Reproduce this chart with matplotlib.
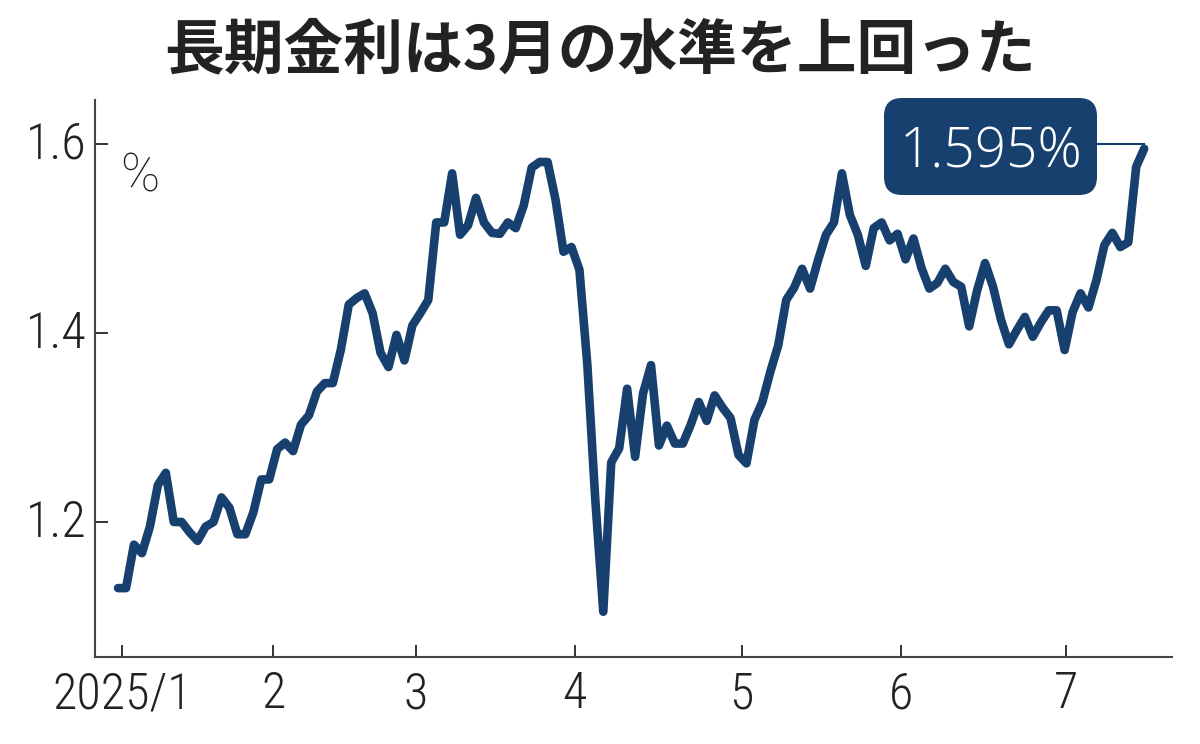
import matplotlib
matplotlib.use("Agg")
import matplotlib.pyplot as plt
from matplotlib.patches import FancyBboxPatch
from matplotlib.transforms import Affine2D, ScaledTranslation

# long-term rate, one value per trading day
rate = [
    1.130, 1.130, 1.176, 1.167, 1.195, 1.239, 1.252, 1.200, 1.200, 1.189,
    1.180, 1.195, 1.200, 1.226, 1.215, 1.187, 1.187, 1.210, 1.245, 1.245,
    1.277, 1.284, 1.275, 1.303, 1.313, 1.338, 1.347, 1.347, 1.382, 1.430,
    1.437, 1.442, 1.421, 1.379, 1.364, 1.398, 1.371, 1.408, 1.421, 1.435,
    1.517, 1.517, 1.569, 1.504, 1.514, 1.543, 1.517, 1.506, 1.505, 1.517,
    1.511, 1.535, 1.575, 1.581, 1.581, 1.541, 1.486, 1.491, 1.467, 1.366,
    1.223, 1.105, 1.263, 1.278, 1.341, 1.269, 1.336, 1.366, 1.281, 1.302,
    1.283, 1.283, 1.303, 1.327, 1.307, 1.334, 1.321, 1.310, 1.271, 1.262,
    1.308, 1.327, 1.359, 1.387, 1.435, 1.448, 1.468, 1.447, 1.477, 1.504,
    1.517, 1.569, 1.525, 1.504, 1.471, 1.511, 1.517, 1.498, 1.505, 1.478,
    1.500, 1.469, 1.447, 1.453, 1.468, 1.454, 1.449, 1.407, 1.445, 1.474,
    1.449, 1.414, 1.388, 1.403, 1.417, 1.396, 1.411, 1.424, 1.424, 1.382,
    1.422, 1.442, 1.427, 1.456, 1.493, 1.506, 1.491, 1.496, 1.576, 1.595,
]
days = list(range(len(rate)))

month_pos = [0.5, 19.5, 37.4, 57.4, 78.4, 98.4, 119.2]
month_labels = ["2025/1", "2", "3", "4", "5", "6", "7"]
y_ticks = [1.2, 1.4, 1.6]
y_labels = ["1.2", "1.4", "1.6"]

NAVY = "#17406f"
TEXT = "#222222"
narrow = ["Roboto Condensed", "DejaVu Sans"]

fig = plt.figure(figsize=(12, 7.44), dpi=100)
ax = fig.add_axes([95 / 1200, 1 - 657 / 744, (1172 - 95) / 1200, (657 - 100) / 744])

ax.plot(days, rate, color=NAVY, lw=6.2, solid_joinstyle="round", solid_capstyle="round")

ax.set_xlim(-2.9, 132.5)
ax.set_ylim(1.0571, 1.6466)
ax.set_xticks(month_pos)
ax.set_xticklabels(month_labels, fontsize=36, family=narrow, fontweight="light", color=TEXT)
ax.set_yticks(y_ticks)
ax.set_yticklabels(y_labels, fontsize=36, family=narrow, fontweight="light", color=TEXT)
ax.tick_params(axis="both", direction="in", length=9, width=1.4, color="#333333")
ax.tick_params(axis="x", pad=10)
ax.tick_params(axis="y", pad=6)

# y labels sit a little above their ticks
lift = ScaledTranslation(0, 3 / 72, fig.dpi_scale_trans)
for label in ax.get_yticklabels():
    label.set_transform(label.get_transform() + lift)

for side in ["top", "right"]:
    ax.spines[side].set_visible(False)
for side in ["left", "bottom"]:
    ax.spines[side].set_linewidth(1.5)
    ax.spines[side].set_color("#444444")

ax.text(120 / 1200, 1 - 177 / 744, "%", transform=fig.transFigure, fontsize=38,
        family=["Roboto", "DejaVu Sans"], fontweight="light", color=TEXT, va="center", ha="left")

# callout for the last value
px = Affine2D().scale(1 / 1200, 1 / 744) + fig.transFigure
box = FancyBboxPatch((898, 744 - 181), 185, 69, boxstyle="round,pad=14,rounding_size=18",
                     transform=px, facecolor=NAVY, edgecolor="none", zorder=4)
fig.add_artist(box)
fig.text(991 / 1200, 1 - 153 / 744, "1.595%", fontsize=39.5, color="white", ha="center", va="center",
         family=["Open Sans", "DejaVu Sans"], fontweight="light", zorder=5)
ax.plot([days[-1], days[-1]], [rate[-1], 1.6], color=NAVY, lw=1.5, zorder=3)
ax.plot([days[-1] - 6, days[-1]], [1.6, 1.6], color=NAVY, lw=1.5, zorder=3)

fig.text(600 / 1200, 1 - 51 / 744, "長期金利は3月の水準を上回った", fontsize=43, fontweight="bold",
         color=TEXT, ha="center", va="center", family=["Noto Sans CJK JP", "DejaVu Sans"])

fig.savefig("out.png", dpi=100)
